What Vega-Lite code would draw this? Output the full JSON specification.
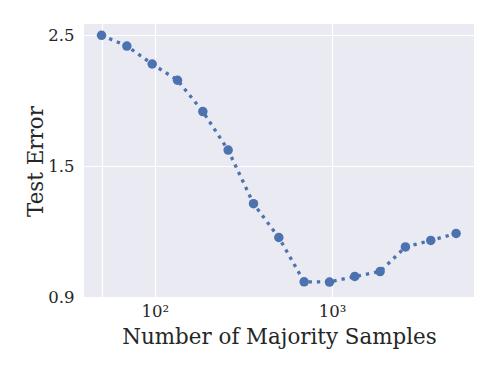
{
  "$schema": "https://vega.github.io/schema/vega-lite/v6.json",
  "autosize": {"type": "none"},
  "padding": {"left": 84, "top": 24, "right": 24, "bottom": 77},
  "width": 390,
  "height": 273,
  "background": "white",
  "config": {
    "view": {"fill": "#EAEAF2", "stroke": null},
    "font": "DejaVu Serif",
    "axis": {
      "domain": false,
      "ticks": false,
      "tickSize": 0,
      "grid": true,
      "gridColor": "white",
      "gridWidth": 1.2,
      "labelFont": "DejaVu Serif",
      "titleFont": "DejaVu Serif",
      "labelColor": "#262626",
      "titleColor": "#262626",
      "labelFontSize": 16.5,
      "titleFontSize": 21.4,
      "titleFontWeight": "normal"
    }
  },
  "data": {
    "values": [
      {"n": 50, "err": 2.497},
      {"n": 69.47, "err": 2.395},
      {"n": 96.53, "err": 2.233},
      {"n": 134.13, "err": 2.096},
      {"n": 186.38, "err": 1.855},
      {"n": 258.97, "err": 1.596},
      {"n": 359.84, "err": 1.295},
      {"n": 500, "err": 1.135},
      {"n": 694.74, "err": 0.955},
      {"n": 965.35, "err": 0.954},
      {"n": 1341.3, "err": 0.975},
      {"n": 1863.8, "err": 0.994},
      {"n": 2589.7, "err": 1.094},
      {"n": 3598.4, "err": 1.122},
      {"n": 5000, "err": 1.153}
    ]
  },
  "encoding": {
    "x": {
      "field": "n",
      "type": "quantitative",
      "scale": {"type": "log", "domain": [39.81, 6309.6], "nice": false},
      "axis": {
        "values": [50, 100, 1000],
        "labelExpr": "datum.value == 100 ? '10²' : datum.value == 1000 ? '10³' : ''",
        "labelPadding": 6,
        "labelBaseline": "top",
        "title": "Number of Majority Samples",
        "titleX": 195,
        "titleY": 46,
        "titleAlign": "center",
        "titleBaseline": "alphabetic"
      }
    },
    "y": {
      "field": "err",
      "type": "quantitative",
      "scale": {"type": "log", "domain": [0.9, 2.61], "nice": false, "zero": false},
      "axis": {
        "values": [0.9, 1.5, 2.5],
        "format": ".1f",
        "labelPadding": 10,
        "title": "Test Error",
        "titleX": -42,
        "titleY": 137,
        "titleAngle": -90,
        "titleAlign": "center",
        "titleBaseline": "alphabetic"
      }
    }
  },
  "layer": [
    {
      "mark": {"type": "line", "color": "#4C72B0", "strokeWidth": 3.3, "strokeDash": [3.3, 5], "clip": true}
    },
    {
      "mark": {"type": "point", "filled": true, "color": "#4C72B0", "opacity": 1, "size": 90}
    }
  ]
}
